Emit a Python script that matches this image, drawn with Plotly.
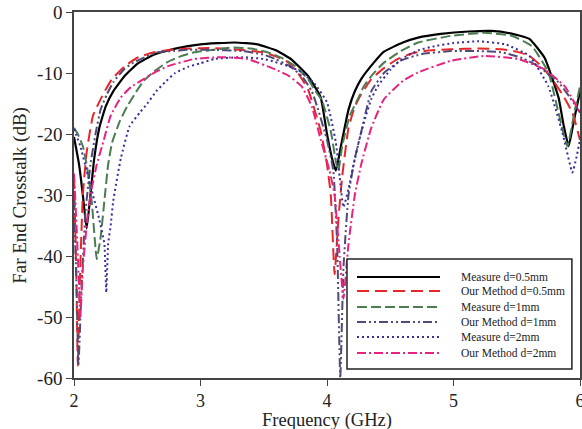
import plotly.graph_objects as go

# ---------------- data ----------------
names = ["Measure d=0.5mm", "Our Method d=0.5mm", "Measure d=1mm",
         "Our Method d=1mm", "Measure d=2mm", "Our Method d=2mm"]

f_m05 = [2.00, 2.04, 2.07, 2.10, 2.13, 2.16, 2.20, 2.25, 2.31, 2.40, 2.50, 2.63, 2.80, 3.00, 3.27, 3.45,
         3.60, 3.72, 3.85, 3.95, 4.00, 4.04, 4.07, 4.11, 4.17, 4.22, 4.27, 4.37, 4.45, 4.60, 4.72, 4.90,
         5.12, 5.30, 5.45, 5.60, 5.72, 5.83, 5.87, 5.91, 5.95, 6.00]
v_m05 = [-20.5, -25, -30, -35.5, -30, -24, -19, -15.5, -13, -10.5, -8.5, -7.0, -6.0, -5.3, -5.0, -5.3,
         -6.3, -7.8, -10.5, -14, -20, -24, -26, -22, -16, -13, -11, -8.3, -6.5, -5.0, -4.2, -3.6,
         -3.2, -3.1, -3.5, -4.4, -7.5, -14, -18.5, -22, -18, -13]

f_o05 = [2.00, 2.02, 2.03, 2.045, 2.07, 2.10, 2.15, 2.23, 2.30, 2.40, 2.50, 2.63, 2.80, 3.06, 3.27, 3.48,
         3.60, 3.69, 3.77, 3.85, 3.95, 4.00, 4.03, 4.06, 4.09, 4.12, 4.17, 4.22, 4.27, 4.35, 4.45, 4.55,
         4.67, 4.80, 4.98, 5.20, 5.38, 5.50, 5.60, 5.70, 5.78, 5.86, 5.94, 6.00]
v_o05 = [-27, -45, -58, -45, -30, -23, -17, -13.5, -11, -8.9, -7.5, -6.6, -6.1, -5.9, -6.1, -6.6,
         -7.3, -8.2, -10, -12.7, -19.5, -25, -30, -43, -34, -27, -19, -15.5, -13.5, -11, -9.2, -7.8,
         -6.8, -6.3, -6.1, -6.0, -6.1, -6.5, -7.2, -9, -11, -13.5, -16.5, -21]

f_m1 = [2.00, 2.03, 2.07, 2.10, 2.14, 2.18, 2.21, 2.24, 2.27, 2.30, 2.36, 2.42, 2.50, 2.55, 2.63, 2.74,
        2.85, 2.95, 3.06, 3.27, 3.40, 3.53, 3.65, 3.75, 3.85, 3.90, 3.96, 4.03, 4.07, 4.09, 4.12, 4.18,
        4.25, 4.29, 4.35, 4.45, 4.60, 4.72, 4.98, 5.25, 5.46, 5.62, 5.75, 5.83, 5.90, 5.96, 6.00]
v_m1 = [-19, -20, -22, -25, -31, -40.5, -37, -31, -25, -21.5, -18, -15.5, -12.8, -11.3, -9.8, -8.2,
        -7.2, -6.6, -6.3, -5.8, -6.0, -6.6, -7.6, -8.9, -11, -12.7, -14.5, -19.5, -24.5, -26, -22, -17,
        -14, -12.2, -10.5, -8.3, -6.2, -5.0, -3.9, -3.4, -3.9, -5.6, -9.9, -16.5, -22, -16, -12.2]

f_o1 = [2.00, 2.02, 2.035, 2.06, 2.09, 2.13, 2.17, 2.21, 2.26, 2.31, 2.40, 2.47, 2.56, 2.66, 2.79, 2.90,
        3.06, 3.33, 3.50, 3.59, 3.70, 3.80, 3.88, 3.93, 4.00, 4.05, 4.08, 4.105, 4.13, 4.17, 4.22, 4.27,
        4.35, 4.45, 4.59, 4.75, 4.98, 5.20, 5.38, 5.55, 5.67, 5.77, 5.83, 5.92, 6.00]
v_o1 = [-31, -45, -58, -45, -33, -25, -20, -16, -13.5, -11.5, -9.3, -8.3, -7.4, -6.6, -6.4, -6.2,
        -6.2, -6.4, -7.0, -7.7, -8.8, -10.5, -13, -16, -21, -26, -38, -60, -42, -30, -24, -19.7,
        -13, -10, -7.9, -6.9, -6.4, -6.4, -6.6, -7.6, -8.9, -10.5, -11.5, -14, -16.5]

f_m2 = [2.00, 2.05, 2.10, 2.15, 2.20, 2.24, 2.255, 2.27, 2.29, 2.31, 2.37, 2.44, 2.52, 2.58, 2.65, 2.72,
        2.80, 2.90, 3.00, 3.11, 3.33, 3.50, 3.59, 3.70, 3.80, 3.90, 4.00, 4.07, 4.10, 4.13, 4.17, 4.21,
        4.25, 4.30, 4.35, 4.40, 4.50, 4.59, 4.72, 4.85, 5.00, 5.20, 5.41, 5.60, 5.75, 5.86, 5.94, 5.97, 6.00]
v_m2 = [-19.2, -22, -26, -30, -34, -38, -46, -38, -35, -31, -24, -18.7, -16.5, -15, -13, -11.5,
        -10, -9, -8.4, -7.7, -7.4, -7.7, -8.2, -8.9, -9.9, -11.7, -14.8, -21.4, -27, -32, -29, -25,
        -21.4, -17.5, -14.3, -12.2, -9.5, -7.7, -6.3, -5.6, -5.1, -4.8, -5.3, -7.2, -12.2, -19.7, -26.3, -24, -21]

f_o2 = [2.00, 2.02, 2.04, 2.05, 2.07, 2.10, 2.13, 2.18, 2.23, 2.29, 2.37, 2.45, 2.55, 2.64, 2.74, 2.95,
        3.17, 3.37, 3.59, 3.70, 3.80, 3.88, 3.95, 4.02, 4.06, 4.10, 4.13, 4.17, 4.22, 4.27, 4.35, 4.45,
        4.60, 4.72, 4.98, 5.25, 5.51, 5.72, 5.88, 6.00]
v_o2 = [-26.5, -35, -45, -50, -42, -35, -30, -25, -21.4, -17, -14, -12.3, -11, -9.9, -8.9, -7.7,
        -7.4, -7.7, -9.4, -10.5, -12.2, -15.5, -20.9, -26, -30, -40, -47, -38, -30, -25, -19, -14.3,
        -11.3, -9.9, -8.0, -7.2, -7.7, -9.4, -12.2, -16.5]

x_ticks = [2, 3, 4, 5, 6]
y_ticks = [0, -10, -20, -30, -40, -50, -60]

freqs = [f_m05, f_o05, f_m1, f_o1, f_m2, f_o2]
vals = [v_m05, v_o05, v_m1, v_o1, v_m2, v_o2]

# ---------------- styles ----------------
colors = ["#000000", "#e8262a", "#4b7c52", "#4f4b78", "#3a2e9c", "#e8237f"]
dashes = ["solid", "12px,6px", "10px,4px", "9px,3px,2px,3px,2px,3px", "2px,3px", "9px,3px,2px,3px"]
widths = [2.2, 2.0, 2.0, 2.0, 2.0, 2.0]
FONT = "Liberation Serif, Times New Roman, serif"

fig = go.Figure()
for n, fx, vy, c, d, w in zip(names, freqs, vals, colors, dashes, widths):
    fig.add_trace(go.Scatter(x=fx, y=vy, mode="lines", name=n, showlegend=False,
                             line=dict(color=c, dash=d, width=w, shape="spline", smoothing=0.4)))

# custom legend box (matches reference layout)
lx0, lx1, ly0, ly1 = 0.5395, 0.984, 0.0246, 0.325
shapes = [dict(type="rect", xref="paper", yref="paper", x0=lx0, x1=lx1, y0=ly0, y1=ly1,
               line=dict(color="#222", width=1.5), fillcolor="white", layer="above")]
annotations = []
row_y = [0.276, 0.2377, 0.1940, 0.1530, 0.1120, 0.0683]
for n, c, d, w, yy in zip(names, colors, dashes, widths, row_y):
    shapes.append(dict(type="line", xref="paper", yref="paper", x0=0.5593, x1=0.7233, y0=yy, y1=yy,
                       line=dict(color=c, dash=d, width=w), layer="above"))
    annotations.append(dict(xref="paper", yref="paper", x=0.761, y=yy, text=n, showarrow=False,
                            xanchor="left", yanchor="middle",
                            font=dict(family=FONT, size=11.5, color="#222")))

# axis titles placed as annotations for exact positioning
annotations.append(dict(xref="paper", yref="paper", x=0.5, y=-0.115, yanchor="middle", xanchor="center",
                        text="Frequency (GHz)", showarrow=False,
                        font=dict(family=FONT, size=18.5, color="#222")))
annotations.append(dict(xref="paper", yref="paper", x=-0.107, y=0.5, xanchor="center", yanchor="middle",
                        text="Far End Crosstalk (dB)", showarrow=False, textangle=-90,
                        font=dict(family=FONT, size=19, color="#222")))

fig.update_layout(
    width=582, height=429,
    margin=dict(l=74, r=2, t=12, b=51),
    plot_bgcolor="white", paper_bgcolor="white",
    shapes=shapes, annotations=annotations,
    font=dict(family=FONT, color="#222"),
)
fig.update_xaxes(range=[2, 6], tickvals=x_ticks, ticktext=[str(t) for t in x_ticks],
                 automargin=False, ticklabeloverflow="allow",
                 showgrid=False, zeroline=False, showline=True, linecolor="#444", linewidth=1.5,
                 mirror=True, ticks="outside", ticklen=6, tickcolor="#444",
                 tickfont=dict(family=FONT, size=18, color="#222"))
fig.update_yaxes(range=[-60, 0], tickvals=y_ticks, ticktext=[str(t) for t in y_ticks],
                 automargin=False, ticklabeloverflow="allow",
                 showgrid=False, zeroline=False, showline=True, linecolor="#444", linewidth=1.5,
                 mirror=True, ticks="outside", ticklen=6, tickcolor="#444",
                 tickfont=dict(family=FONT, size=19, color="#222"))

fig.write_html("out.html", config={"displayModeBar": False},
               post_script="document.body.style.margin='0';document.body.style.overflow='hidden';")
